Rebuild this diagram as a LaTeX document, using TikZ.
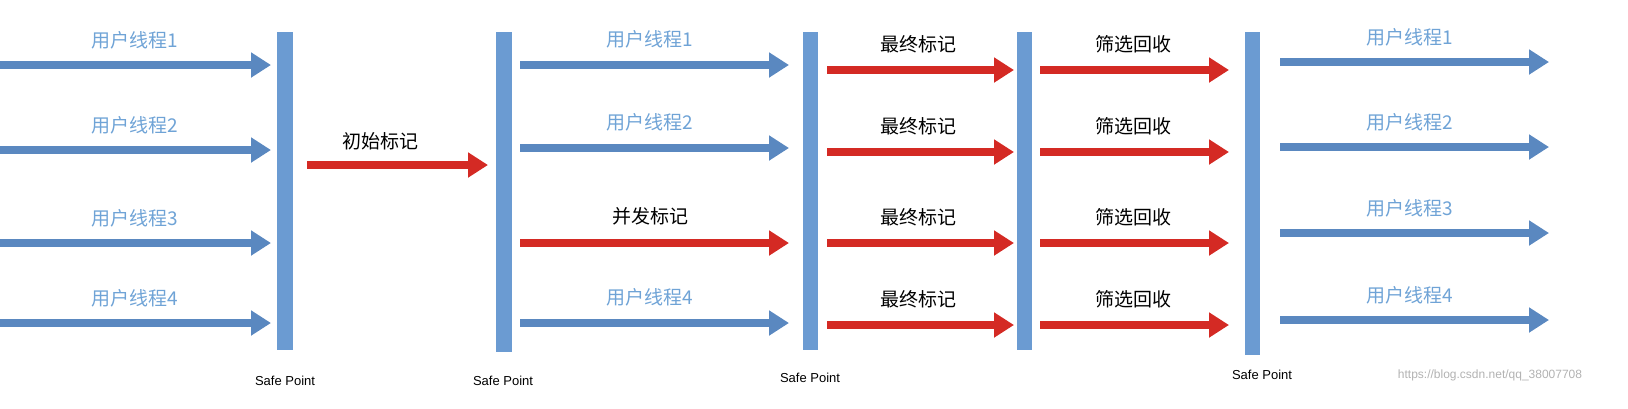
\documentclass[tikz,border=0pt]{standalone}
\usepackage{fontspec}
\setmainfont{Liberation Sans}
\newfontfamily\cjk{Noto Sans CJK SC}
\usetikzlibrary{arrows.meta}
\definecolor{bl}{HTML}{5A88C0}
\definecolor{bar}{HTML}{6B9BD2}
\definecolor{rd}{HTML}{D42A24}
\definecolor{lbl}{HTML}{6FA3D6}
\tikzset{
 barr/.style={fill=bar,draw=none},
 barrow/.style={draw=bl,line width=8pt,-{Triangle[width=24pt,length=20pt]}},
 rarrow/.style={draw=rd,line width=8pt,-{Triangle[width=24pt,length=20pt]}},
 ulab/.style={font=\cjk\fontsize{19}{19}\selectfont,text=lbl},
 klab/.style={font=\cjk\fontsize{19}{19}\selectfont,text=black},
 sp/.style={font=\fontsize{13}{13}\selectfont}
}
\begin{document}
\begin{tikzpicture}[x=1pt,y=-1pt]
\useasboundingbox (0,0) rectangle (1628,408);
% bars
\fill[barr] (277,32) rectangle (293,350);
\fill[barr] (496,32) rectangle (512,352);
\fill[barr] (803,32) rectangle (818,350);
\fill[barr] (1017,32) rectangle (1032,350);
\fill[barr] (1245,32) rectangle (1260,355);
% group 1
\foreach \y/\n in {65/1,150/2,243/3,323/4}{
 \coordinate (a1s\n) at (0,\y); \coordinate (a1e\n) at (271,\y);
 \draw[barrow] (a1s\n) -- (a1e\n);
 \node[ulab] (l1\n) at (135,\y-25) {用户线程\n};
}
% initial mark
\coordinate (is) at (307,165); \coordinate (ie) at (488,165);
\draw[rarrow] (is) -- (ie);
\node[klab] (il) at (380,141) {初始标记};
% group 2
\foreach \y/\n in {65/1,148/2,323/4}{
 \coordinate (a2s\n) at (520,\y); \coordinate (a2e\n) at (789,\y);
 \draw[barrow] (a2s\n) -- (a2e\n);
 \node[ulab] (l2\n) at (650,\y-26) {用户线程\n};
}
\coordinate (a2s3) at (520,243); \coordinate (a2e3) at (789,243);
\draw[rarrow] (a2s3) -- (a2e3);
\node[klab] (l23) at (650,216) {并发标记};
% group 3 and 4
\foreach \y/\n in {70/1,152/2,243/3,325/4}{
 \coordinate (a3s\n) at (827,\y); \coordinate (a3e\n) at (1014,\y);
 \draw[rarrow] (a3s\n) -- (a3e\n);
 \node[klab] (l3\n) at (918,\y-26) {最终标记};
 \coordinate (a4s\n) at (1040,\y); \coordinate (a4e\n) at (1229,\y);
 \draw[rarrow] (a4s\n) -- (a4e\n);
 \node[klab] (l4\n) at (1133,\y-26) {筛选回收};
}
% group 5
\foreach \y/\n in {62/1,147/2,233/3,320/4}{
 \coordinate (a5s\n) at (1280,\y); \coordinate (a5e\n) at (1549,\y);
 \draw[barrow] (a5s\n) -- (a5e\n);
 \node[ulab] (l5\n) at (1410,\y-25) {用户线程\n};
}
% safe points
\node[sp] (s1) at (285,381) {Safe Point};
\node[sp] (s2) at (503,381) {Safe Point};
\node[sp] (s3) at (810,378) {Safe Point};
\node[sp] (s4) at (1262,375) {Safe Point};
\node[font=\fontsize{12}{12}\selectfont,text=gray!60] (wm) at (1490,375) {https://blog.csdn.net/qq\_38007708};
\end{tikzpicture}
\end{document}
